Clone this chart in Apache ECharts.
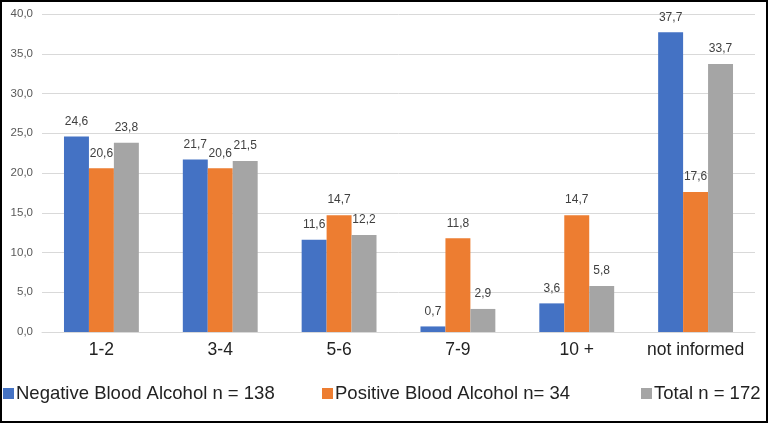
<!DOCTYPE html>
<html><head><meta charset="utf-8">
<script src="https://cdn.jsdelivr.net/npm/echarts@6/dist/echarts.min.js"></script>
<style>
html,body{margin:0;padding:0;background:#fff;}
#c{width:768px;height:423px;box-sizing:border-box;border:2px solid #000;}
</style></head><body>
<div id="c"></div>
<script>
const categories = ['1-2','3-4','5-6','7-9','10 +','not informed'];
const negative = [24.6, 21.7, 11.6, 0.7, 3.6, 37.7];
const positive = [20.6, 20.6, 14.7, 11.8, 14.7, 17.6];
const total = [23.8, 21.5, 12.2, 2.9, 5.8, 33.7];
const seriesNames = ['Negative Blood Alcohol n = 138','Positive Blood Alcohol n= 34','Total n = 172'];
const colors = ['#4472C4','#ED7D31','#A5A5A5'];

const chart = echarts.init(document.getElementById('c'));
const fmt = v => v.toFixed(1).replace('.', ',');
const lbl = {show:true, position:'top', distance:9, fontSize:12, color:'#404040', fontFamily:'Liberation Sans, Arial, sans-serif', formatter: p => fmt(p.value)};
const legendStyle = (name, left) => ({
  data:[name], left:left, top:382, itemWidth:11, itemHeight:11, icon:'rect', padding:0,
  textStyle:{fontSize:18.5, color:'#222', fontFamily:'Liberation Sans, Arial, sans-serif', padding:[0,0,0,-3]}
});
chart.setOption({
  animation:false,
  color: colors,
  grid:{left:40, right:11, top:12, bottom:89},
  legend:[legendStyle(seriesNames[0],1), legendStyle(seriesNames[1],320), legendStyle(seriesNames[2],639)],
  xAxis:{type:'category', data:categories,
    axisLine:{lineStyle:{color:'#d9d9d9'}}, axisTick:{show:false},
    axisLabel:{interval:0, fontSize:17.5, color:'#222', margin:9, fontFamily:'Liberation Sans, Arial, sans-serif'}},
  yAxis:{type:'value', min:0, max:40, interval:5,
    axisLine:{show:false}, axisTick:{show:false},
    splitLine:{lineStyle:{color:'#d9d9d9'}},
    axisLabel:{fontSize:11.5, color:'#595959', margin:9, formatter: v => fmt(v), fontFamily:'Liberation Sans, Arial, sans-serif'}},
  series:[
    {name:seriesNames[0], type:'bar', data:negative, barGap:'0%', barCategoryGap:'37%', label:lbl},
    {name:seriesNames[1], type:'bar', data:positive, barGap:'0%', barCategoryGap:'37%', label:lbl},
    {name:seriesNames[2], type:'bar', data:total, barGap:'0%', barCategoryGap:'37%', label:lbl}
  ]
});
</script></body></html>
